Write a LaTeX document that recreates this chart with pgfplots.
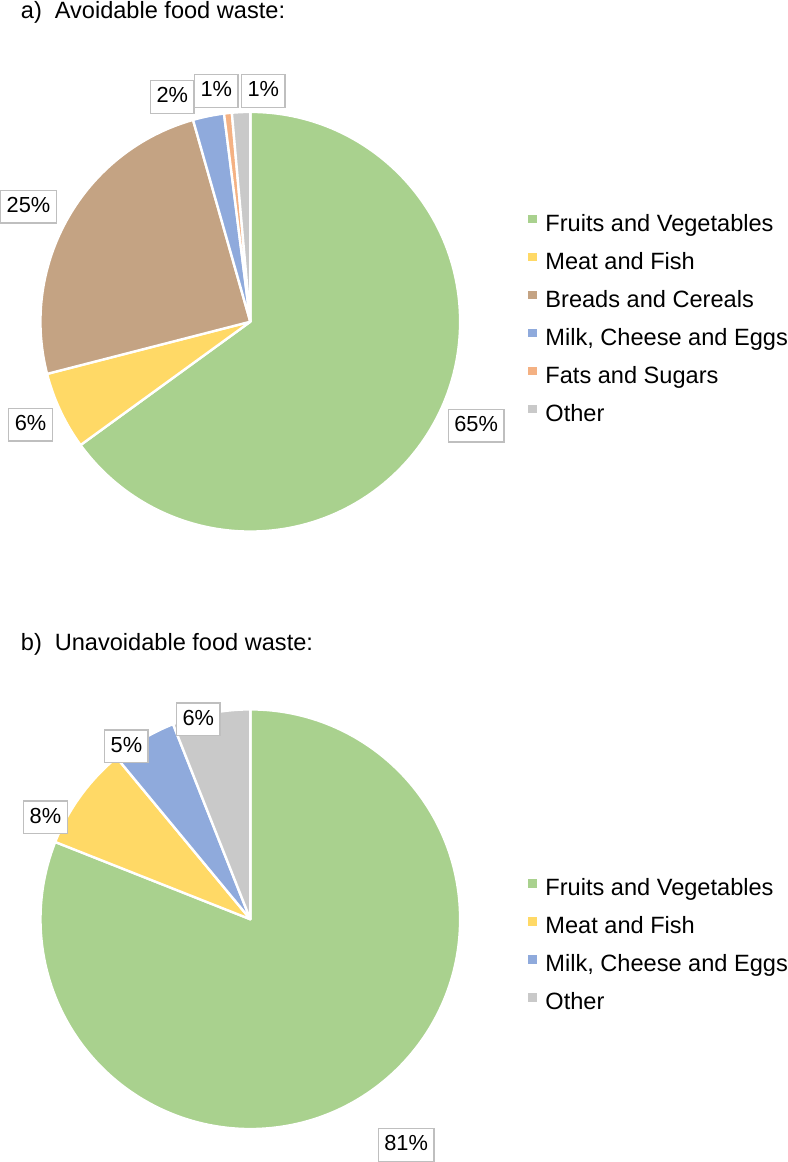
\documentclass[border=0pt]{standalone}
\usepackage{fontspec}
\setmainfont{Liberation Sans}
\usepackage{pgfplots}
\pgfplotsset{compat=1.18}

\definecolor{cFruit}{HTML}{A9D18E}
\definecolor{cMeat}{HTML}{FFD966}
\definecolor{cBread}{HTML}{C4A383}
\definecolor{cMilk}{HTML}{8FAADC}
\definecolor{cFat}{HTML}{F4B183}
\definecolor{cOther}{HTML}{C9C9C9}
\definecolor{cBox}{HTML}{BFBFBF}

\newcommand\bigfont{\fontsize{11.8}{14}\selectfont}
\newcommand\lblfont{\fontsize{10.9}{13}\selectfont}

% share (%) / colour / label x / label y  (label position in pixels)
\def\pieA{65/cFruit/476/426, 6/cMeat/30/425, 24.6/cBread/28/207, 2.4/cMilk/172/97, 0.6/cFat/216/91, 1.4/cOther/263/91}
\def\pieB{81/cFruit/406/1146, 8/cMeat/45/818, 5/cMilk/126/747, 6/cOther/198/720}

% slices clockwise from 12 o'clock, radius 210 px
\newcommand\drawpie[3]{%
  \xdef\cum{0}%
  \foreach \v/\c/\lx/\ly in #1 {%
    \pgfmathsetmacro\aa{90-3.6*\cum}%
    \pgfmathsetmacro\ab{90-3.6*(\cum+\v)}%
    \pgfmathsetmacro\px{#2+210*cos(\aa)}%
    \pgfmathsetmacro\py{#3-210*sin(\aa)}%
    \edef\slice{\noexpand\fill[\c, draw=white, line width=1.2pt, line join=round]
      (axis cs:#2,#3) -- (axis cs:\px,\py) arc[start angle=\aa, end angle=\ab, radius=105pt] -- cycle;}%
    \slice
    \pgfmathsetmacro\nc{\cum+\v}%
    \xdef\cum{\nc}%
  }%
  \foreach \v/\c/\lx/\ly in #1 {%
    \edef\lbl{\noexpand\node[draw=cBox, fill=white, line width=0.7pt, inner xsep=3pt, inner ysep=3pt,
      text height=8pt, text depth=2.3pt, font=\noexpand\lblfont] at (axis cs:\lx,\ly)
      {\noexpand\pgfmathprintnumber[fixed,precision=0,assume math mode=true]{\v}\noexpand\%};}%
    \lbl
  }%
}

\pgfplotsset{
  piebox/.style={
    x=0.5pt, y=0.5pt, xmin=0, xmax=787, y dir=reverse,
    hide axis, clip=false,
    legend cell align=left,
    legend image code/.code={\fill[##1] (0pt,1.3pt) rectangle (3.6pt,4.9pt);},
    legend style={draw=none, fill=none, anchor=north west, inner sep=0pt,
      row sep=8pt, font=\bigfont,
      nodes={inner sep=0pt, text height=8.5pt, text depth=2.5pt},
      /tikz/every odd column/.append style={column sep=4.5pt}},
  },
}

\begin{document}
\begin{tikzpicture}
\begin{axis}[piebox, ymin=0, ymax=581,
  legend style={at={(0.6709,0.6317)}}]
\path (rel axis cs:0,0) rectangle (rel axis cs:1,1);
\drawpie{\pieA}{250}{322}
\node[anchor=base west, inner sep=0pt, font=\bigfont] at (axis cs:20,19) {a)\hspace{0.55em}Avoidable food waste:};
\addlegendimage{cFruit}\addlegendentry{Fruits and Vegetables}
\addlegendimage{cMeat}\addlegendentry{Meat and Fish}
\addlegendimage{cBread}\addlegendentry{Breads and Cereals}
\addlegendimage{cMilk}\addlegendentry{Milk, Cheese and Eggs}
\addlegendimage{cFat}\addlegendentry{Fats and Sugars}
\addlegendimage{cOther}\addlegendentry{Other}
\end{axis}

\begin{axis}[piebox, ymin=581, ymax=1162, at={(0pt,-290.5pt)},
  legend style={at={(0.6709,0.4871)}}]
\path (rel axis cs:0,0) rectangle (rel axis cs:1,1);
\drawpie{\pieB}{250}{920}
\node[anchor=base west, inner sep=0pt, font=\bigfont] at (axis cs:20,651) {b)\hspace{0.55em}Unavoidable food waste:};
\addlegendimage{cFruit}\addlegendentry{Fruits and Vegetables}
\addlegendimage{cMeat}\addlegendentry{Meat and Fish}
\addlegendimage{cMilk}\addlegendentry{Milk, Cheese and Eggs}
\addlegendimage{cOther}\addlegendentry{Other}
\end{axis}
\end{tikzpicture}
\end{document}
